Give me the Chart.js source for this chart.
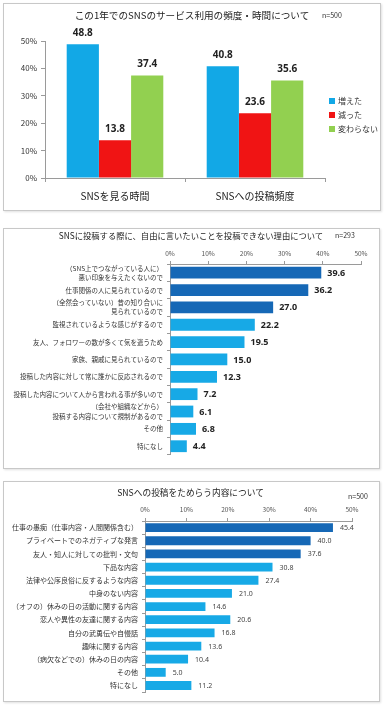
<!DOCTYPE html>
<html lang="ja">
<head>
<meta charset="utf-8">
<script src="https://cdn.jsdelivr.net/npm/chart.js@4.4.1/dist/chart.umd.min.js"></script>
<style>
    body { margin: 0; width: 384px; height: 705px; background: #fff; position: relative; overflow: hidden;
           font-family: "Noto Sans CJK JP", "Noto Sans", sans-serif; color: #333; }
    .panel { position: absolute; border: 1px solid #c8c8c8; box-shadow: 1px 1px 2px rgba(0,0,0,0.12); background: #fff; }
    .panel canvas { position: absolute; left: 0; top: 0; }
    .txt { position: absolute; white-space: nowrap; }
    .legend-item { position: absolute; left: 329px; font-size: 8px; line-height: 10px; white-space: nowrap; }
    .legend-item i { display: inline-block; width: 6px; height: 6px; margin-right: 3px; vertical-align: 0px; }
</style>
</head>
<body>

<div class="panel" style="left:3px;top:3px;width:376px;height:206px;"><canvas id="usageChart" width="376" height="206"></canvas></div>
<div class="panel" style="left:3px;top:228px;width:375px;height:239px;"><canvas id="reasonChart" width="375" height="239"></canvas></div>
<div class="panel" style="left:3px;top:481px;width:375px;height:219px;"><canvas id="hesitateChart" width="375" height="219"></canvas></div>

<div class="txt" style="left:0;width:384px;text-align:center;top:9px;font-size:9.6px;line-height:12px;color:#222;">この1年でのSNSのサービス利用の頻度・時間について</div>
<div class="txt" style="left:322px;top:11px;font-size:7px;line-height:9px;">n=500</div>
<div class="txt" style="left:0;width:382px;text-align:center;top:230px;font-size:8.3px;line-height:10px;color:#222;">SNSに投稿する際に、自由に言いたいことを投稿できない理由について</div>
<div class="txt" style="left:335px;top:231px;font-size:7px;line-height:9px;">n=293</div>
<div class="txt" style="left:0;width:381px;text-align:center;top:488px;font-size:8.7px;line-height:10px;color:#222;">SNSへの投稿をためらう内容について</div>
<div class="txt" style="left:348px;top:492px;font-size:7px;line-height:9px;">n=500</div>
<div id="legend"></div>

<script>
// チャート1: 利用の頻度・時間
const usageCats = ['SNSを見る時間', 'SNSへの投稿頻度'];
const usageSeries = ['増えた', '減った', '変わらない'];
const usageUp = [48.8, 40.8];
const usageDown = [13.8, 23.6];
const usageSame = [37.4, 35.6];
const usageTicks = [0, 10, 20, 30, 40, 50];

// チャート2: 投稿できない理由 (n=293)
const reasonLabels = [
    ['（SNS上でつながっている人に）', '悪い印象を与えたくないので'],
    '仕事関係の人に見られているので',
    ['（全然会っていない）昔の知り合いに', '見られているので'],
    '監視されているような感じがするので',
    '友人、フォロワーの数が多くて気を遣うため',
    '家族、親戚に見られているので',
    '投稿した内容に対して常に誰かに反応されるので',
    '投稿した内容について人から言われる事が多いので',
    ['（会社や組織などから）', '投稿する内容について規制があるので'],
    'その他',
    '特になし',
];
const reasonValues = [39.6, 36.2, 27.0, 22.2, 19.5, 15.0, 12.3, 7.2, 6.1, 6.8, 4.4];

// チャート3: 投稿をためらう内容 (n=500)
const hesitateLabels = [
    '仕事の愚痴（仕事内容・人間関係含む）',
    'プライベートでのネガティブな発言',
    '友人・知人に対しての批判・文句',
    '下品な内容',
    '法律や公序良俗に反するような内容',
    '中身のない内容',
    '（オフの）休みの日の活動に関する内容',
    '恋人や異性の友達に関する内容',
    '自分の武勇伝や自慢話',
    '趣味に関する内容',
    '（病欠などでの）休みの日の内容',
    'その他',
    '特になし',
];
const hesitateValues = [45.4, 40.0, 37.6, 30.8, 27.4, 21.0, 14.6, 20.6, 16.8, 13.6, 10.4, 5.0, 11.2];
const pctTicks = [0, 10, 20, 30, 40, 50];

// 色
const seriesColors = ['#12a8e6', '#f01414', '#92d050'];
const darkBlue = '#1668b6';
const lightBlue = '#17a9e6';
const axisColor = '#9a9a9a';

// 値ラベル
const valueLabels = {
    id: 'valueLabels',
    afterDatasetsDraw(chart, args, opts) {
        const ctx = chart.ctx;
        ctx.save();
        ctx.font = opts.font;
        ctx.fillStyle = opts.color;
        chart.data.datasets.forEach((ds, i) => {
            chart.getDatasetMeta(i).data.forEach((bar, j) => {
                const txt = ds.data[j].toFixed(1);
                if (chart.options.indexAxis === 'y') {
                    ctx.textAlign = 'left';
                    ctx.textBaseline = 'middle';
                    ctx.fillText(txt, bar.x + opts.offset, bar.y + 0.5);
                } else {
                    ctx.textAlign = 'center';
                    ctx.textBaseline = 'bottom';
                    ctx.fillText(txt, bar.x, bar.y - opts.offset);
                }
            });
        });
        ctx.restore();
    }
};

Chart.defaults.font.family = '"Noto Sans CJK JP", "Noto Sans", sans-serif';
Chart.defaults.animation = false;

// 凡例 (HTML)
const legendY = [96, 110, 124];
document.getElementById('legend').innerHTML = usageSeries.map((s, i) =>
    `<div class="legend-item" style="top:${legendY[i]}px"><i style="background:${seriesColors[i]}"></i>${s}</div>`
).join('');

new Chart(document.getElementById('usageChart'), {
    type: 'bar',
    data: {
        labels: usageCats,
        datasets: [usageUp, usageDown, usageSame].map((d, i) => ({
            label: usageSeries[i],
            data: d,
            backgroundColor: seriesColors[i],
            barPercentage: 1,
            categoryPercentage: 0.69,
        })),
    },
    options: {
        responsive: false,
        layout: { padding: { left: 0, right: 55, top: 37, bottom: 0 } },
        plugins: {
            legend: { display: false },
            tooltip: { enabled: false },
            valueLabels: { font: 'bold 10px "Noto Sans", sans-serif', color: '#222', offset: 6 },
        },
        scales: {
            x: {
                afterFit: s => { s.height = 32; },
                grid: { drawOnChartArea: false, tickLength: 4, color: axisColor },
                border: { color: axisColor },
                ticks: { font: { size: 10 }, color: '#222', padding: 8 },
            },
            y: {
                min: 0, max: 50,
                afterFit: s => { s.width = 41; },
                afterBuildTicks: s => { s.ticks = usageTicks.map(v => ({ value: v })); },
                grid: { drawOnChartArea: false, tickLength: 4, color: axisColor },
                border: { color: axisColor },
                ticks: { font: { size: 8 }, color: '#333', padding: 4, callback: v => v + '%' },
            },
        },
    },
    plugins: [valueLabels],
});

function hbarOptions(o) {
    return {
        responsive: false,
        indexAxis: 'y',
        layout: { padding: { left: 0, right: o.right, top: 0, bottom: o.bottom } },
        plugins: {
            legend: { display: false },
            tooltip: { enabled: false },
            valueLabels: { font: o.valueFont, color: o.valueColor, offset: o.valueOffset },
        },
        scales: {
            x: {
                position: 'top',
                min: 0, max: 50,
                afterFit: s => { s.height = o.topH; },
                afterBuildTicks: s => { s.ticks = pctTicks.map(v => ({ value: v })); },
                grid: { drawOnChartArea: false, tickLength: 3, color: axisColor },
                border: { color: axisColor },
                ticks: { font: { size: 6.5 }, color: '#555', padding: o.topPad, callback: v => v + '%' },
            },
            y: {
                afterFit: s => { s.width = o.leftW; },
                grid: { drawOnChartArea: false, tickLength: 3, color: axisColor },
                border: { color: axisColor },
                ticks: { font: { size: o.labelSize, lineHeight: 1.4 }, color: '#333', padding: 4, autoSkip: false },
            },
        },
    };
}

new Chart(document.getElementById('reasonChart'), {
    type: 'bar',
    data: {
        labels: reasonLabels,
        datasets: [{
            data: reasonValues,
            backgroundColor: reasonValues.map((v, i) => i < 3 ? darkBlue : lightBlue),
            barPercentage: 1,
            categoryPercentage: 0.68,
        }],
    },
    options: hbarOptions({ right: 18, bottom: 9, topH: 35, leftW: 166, topPad: 4, labelSize: 6.5,
        valueFont: 'bold 9px "Noto Sans", sans-serif', valueColor: '#222', valueOffset: 6 }),
    plugins: [valueLabels],
});

new Chart(document.getElementById('hesitateChart'), {
    type: 'bar',
    data: {
        labels: hesitateLabels,
        datasets: [{
            data: hesitateValues,
            backgroundColor: hesitateValues.map((v, i) => i < 3 ? darkBlue : lightBlue),
            barPercentage: 1,
            categoryPercentage: 0.67,
        }],
    },
    options: hbarOptions({ right: 27, bottom: 4, topH: 39, leftW: 141, topPad: 5, labelSize: 7,
        valueFont: '7px "Noto Sans", sans-serif', valueColor: '#444', valueOffset: 7 }),
    plugins: [valueLabels],
});
</script>
</body>
</html>
